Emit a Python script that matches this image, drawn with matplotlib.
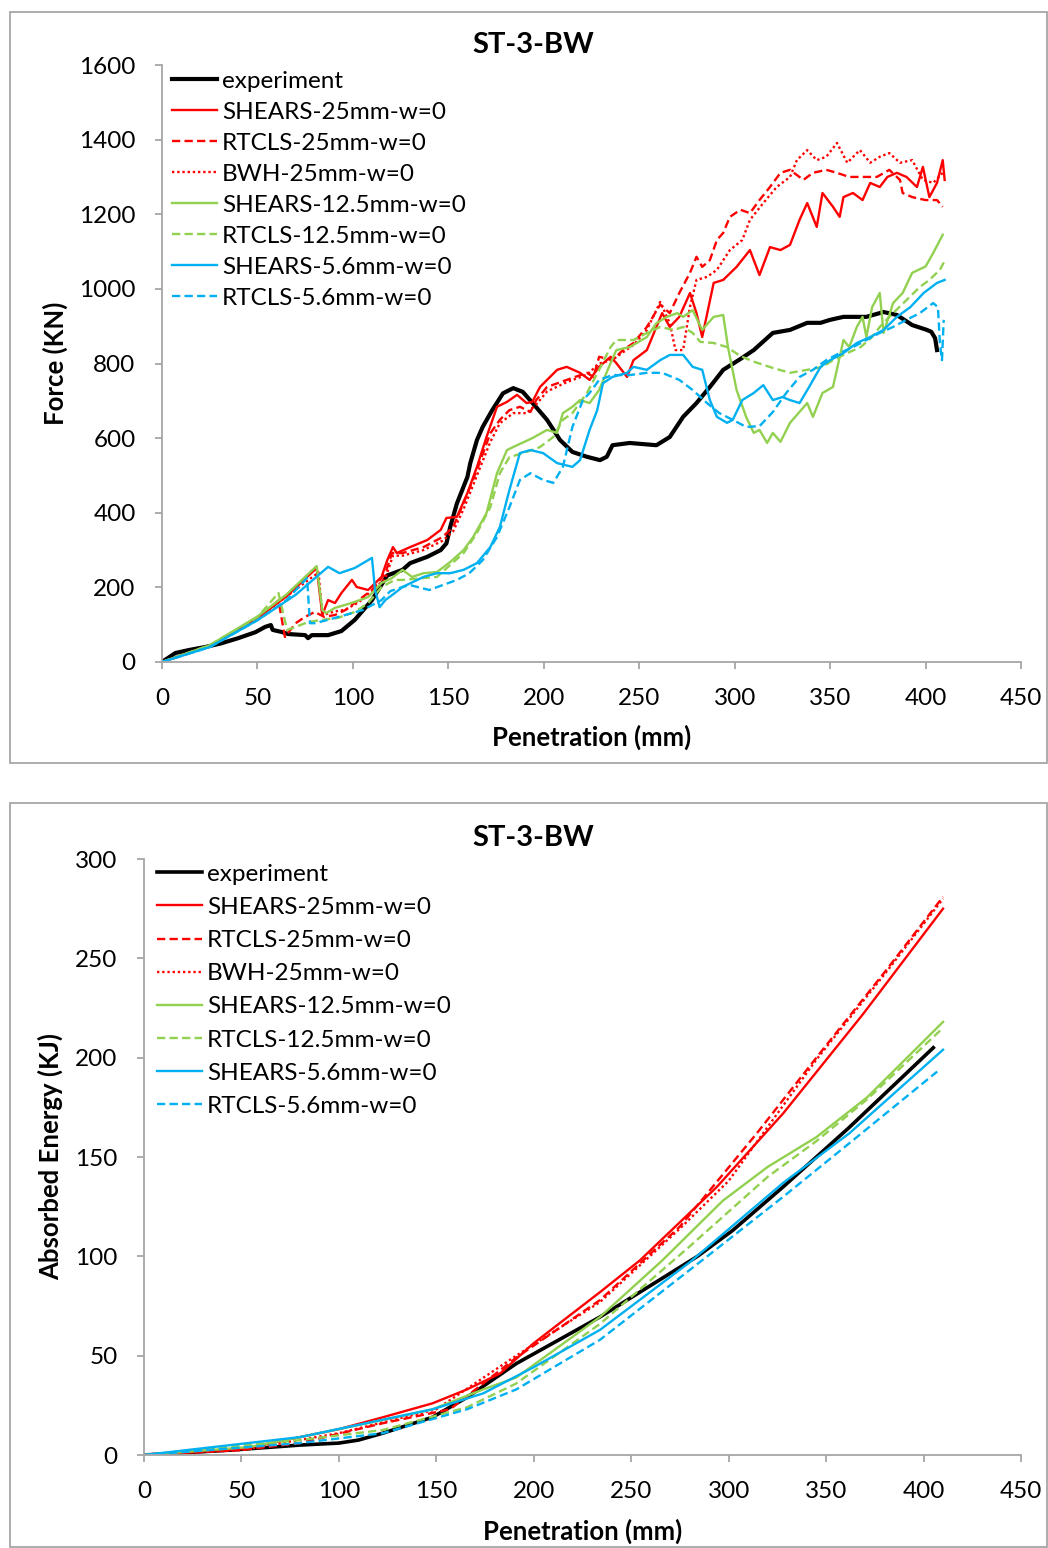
import matplotlib
matplotlib.use("Agg")
import matplotlib.pyplot as plt
from matplotlib.patches import Rectangle

plt.rcParams["font.family"] = ["Lato", "DejaVu Sans"]

TITLE = "ST-3-BW"
LABELS = ["experiment", "SHEARS-25mm-w=0", "RTCLS-25mm-w=0", "BWH-25mm-w=0",
          "SHEARS-12.5mm-w=0", "RTCLS-12.5mm-w=0", "SHEARS-5.6mm-w=0", "RTCLS-5.6mm-w=0"]

# ---- force vs penetration (top) ----
exp_x = [0, 7, 14, 22.5, 31, 40, 49, 54, 57, 58, 63, 66, 75, 76.5, 78.5, 87, 94, 101, 110, 118,
         126, 130, 139, 146, 149, 151, 154.5, 160, 161.5, 165, 168, 173, 178.6, 184, 189, 196,
         201.7, 208.5, 215, 222.6, 229.4, 233, 236, 245, 259, 266, 273, 280, 287, 294, 303, 310,
         320, 329, 338, 345, 350, 357, 369, 378, 385, 393, 400.7, 403, 405, 406]
exp_f = [0, 24, 32, 40, 50, 64, 80, 94, 99, 86, 80, 75, 72, 64, 72, 72, 83, 113, 166, 232,
         247, 265, 282, 300, 318, 362, 425, 496, 533, 595, 630, 675, 720, 734, 724, 683,
         649, 595, 563, 550, 541, 550, 581, 587, 581, 603, 657, 694, 737, 783, 812, 836,
         882, 890, 909, 909, 917, 925, 925, 938, 930, 903, 890, 885, 868, 836]

sh25_x = [0, 25, 50, 65, 81, 84, 87, 90.6, 94, 99.5, 102, 108, 115, 118, 121, 123, 130, 139, 146,
          149, 154.5, 160, 165, 170, 175.5, 180.7, 186, 191, 194, 198, 207, 212, 219, 224, 229,
          235, 238, 243.6, 247, 254, 259, 262, 266, 271, 276.6, 280, 283, 289, 294, 301, 308,
          313, 318.5, 324, 329, 334, 338, 343, 346, 351.5, 355, 357, 362, 367, 371, 376, 380,
          385, 390, 395.5, 398.6, 402, 406, 409, 410]
sh25_f = [0, 43, 118, 175, 252, 126, 166, 158, 185, 220, 201, 193, 228, 273, 308, 292, 308, 327, 354,
          386, 389, 453, 523, 603, 684, 697, 716, 694, 697, 737, 783, 791, 775, 756, 791,
          818, 801, 764, 809, 836, 898, 935, 898, 925, 989, 935, 871, 1016, 1024, 1059, 1104,
          1037, 1112, 1104, 1118, 1185, 1230, 1166, 1257, 1220, 1193, 1246, 1257, 1238, 1284, 1273, 1300,
          1311, 1300, 1273, 1327, 1246, 1284, 1345, 1292]

rt25_x = [0, 25, 50, 61, 64.4, 70, 75, 80, 85, 90.6, 96, 103, 110, 117, 120.5, 126, 137, 147,
          152.5, 158, 165, 172, 177, 182, 187.5, 193, 196, 201.7, 212, 222.6, 226, 229, 236,
          241.5, 247, 254, 261, 266, 271, 276.6, 280, 283, 287, 290.7, 294, 297.5, 303, 308,
          313, 318.5, 324, 329, 336, 341, 348, 353.6, 360, 367, 374.5, 381, 386.6, 388, 393,
          400, 406, 409]
rt25_f = [0, 43, 118, 165, 67, 104, 121, 134, 121, 126, 139, 166, 193, 238, 292, 292, 308, 335,
          362, 426, 515, 613, 649, 675, 684, 670, 702, 737, 756, 775, 764, 818, 809,
          836, 855, 898, 958, 935, 989, 1043, 1086, 1059, 1077, 1131, 1150, 1193, 1212, 1203,
          1238, 1273, 1311, 1319, 1292, 1311, 1319, 1311, 1300, 1300, 1300, 1319, 1292, 1257, 1246,
          1238, 1238, 1220]

bwh_x = [0, 25, 50, 65, 82, 84, 90, 96, 103, 110, 117, 121, 126, 137, 147, 152.5, 158, 165, 172,
         177, 184, 191, 196, 201.7, 212, 222.6, 229, 236, 241.5, 247, 254, 261, 266, 269, 273,
         276.6, 280, 285.5, 290.7, 297.5, 304, 308, 315, 322, 329, 332.6, 338, 343, 348, 353.6,
         359, 365.6, 371, 376, 381, 386.6, 393, 398.6, 404, 409]
bwh_f = [0, 43, 118, 175, 240, 125, 135, 140, 160, 190, 225, 285, 285, 300, 325, 350, 410, 500, 590,
         640, 667, 667, 690, 725, 750, 770, 800, 810, 830, 850, 890, 965, 908, 836, 836,
         952, 1024, 1032, 1051, 1104, 1131, 1185, 1230, 1273, 1300, 1345, 1372, 1345, 1354, 1391,
         1338, 1372, 1338, 1354, 1364, 1338, 1345, 1292, 1284, 1311]

sh12_x = [0, 25, 50, 65, 81, 84, 86, 90.6, 96, 101, 108, 115, 120.5, 126, 131, 137, 144, 151, 158,
          163, 170, 175.5, 180.7, 186, 194, 201.7, 207, 210, 215, 219, 224, 229, 235, 238, 245,
          254, 259, 264.5, 270, 273, 278, 283, 289, 294, 296.5, 301, 306, 310, 313, 317, 320,
          324, 329, 338, 341, 346, 351.5, 357, 360, 364, 367, 369, 372, 376, 378, 383, 388,
          393, 400, 404, 409]
sh12_f = [0, 45, 122, 180, 257, 139, 131, 145, 153, 161, 174, 212, 225, 247, 228, 238, 241, 268, 300,
          335, 399, 506, 568, 581, 600, 622, 614, 667, 684, 702, 694, 729, 801, 836, 844,
          871, 908, 925, 935, 925, 943, 890, 925, 930, 844, 729, 657, 614, 622, 587, 614,
          590, 641, 694, 657, 721, 737, 863, 844, 898, 925, 871, 951, 989, 882, 962, 989,
          1043, 1060, 1096, 1145]

rt12_x = [0, 25, 50, 61, 65.5, 70, 76.5, 84, 92, 101, 108, 115, 122, 126, 137, 144, 151, 158, 165,
          172, 177, 182, 191, 198, 205, 210, 215, 222.6, 229, 235, 238, 247, 254, 261, 268, 273,
          278, 282, 289, 296, 303, 310, 320, 329, 338, 346, 351.5, 359, 366, 372, 376, 383, 390,
          397, 402, 407.5, 410]
rt12_f = [0, 45, 120, 185, 86, 94, 107, 113, 118, 134, 158, 201, 220, 220, 225, 228, 260, 292, 346,
          415, 506, 549, 563, 576, 603, 649, 667, 721, 783, 844, 863, 863, 882, 898, 890, 898,
          882, 858, 855, 844, 820, 805, 788, 775, 783, 791, 809, 828, 844, 871, 898, 935, 970,
          1005, 1024, 1051, 1075]

sh56_x = [0, 25, 50, 70, 87, 93, 101, 110, 111.6, 114, 117, 122, 126, 137, 144, 151, 158, 165, 172,
          177, 182, 187.5, 193, 199.6, 207, 215, 219, 224, 228, 231, 236, 243.6, 247, 254, 261,
          266, 273, 278, 283, 287, 290.7, 296, 299, 304, 310, 315, 320, 325, 329, 334, 339, 345,
          350, 357, 364, 371, 378, 385, 392, 399, 406, 410]
sh56_f = [0, 40, 112, 180, 255, 238, 252, 279, 193, 147, 166, 185, 201, 228, 238, 238, 247, 265, 308,
          362, 461, 560, 568, 560, 533, 523, 541, 622, 675, 747, 764, 775, 791, 783, 809,
          823, 823, 791, 783, 702, 657, 641, 649, 702, 721, 742, 702, 710, 702, 694, 737, 791,
          809, 828, 855, 871, 890, 925, 951, 989, 1016, 1024]

rt56_x = [0, 25, 50, 65, 76, 77.5, 80, 87, 96, 105, 115, 119.6, 126, 130, 140, 147, 154.5, 161, 168,
          175.5, 182, 187.5, 193, 199.6, 205, 210, 215, 220.5, 224, 229, 236, 245, 254, 262, 271,
          278, 285.5, 292, 299, 306, 313, 320, 327, 334, 341, 348, 355, 362, 369, 376, 383, 390,
          397, 404, 406.5, 407.5, 408.6, 409.5]
rt56_f = [0, 40, 112, 165, 225, 104, 104, 113, 126, 139, 166, 190, 201, 206, 193, 206, 220, 238, 273,
          335, 415, 488, 506, 488, 480, 523, 630, 702, 721, 756, 769, 769, 775, 775, 756,
          729, 694, 667, 649, 630, 632, 670, 721, 764, 783, 809, 828, 844, 863, 882, 898, 917,
          935, 962, 951, 855, 809, 917]

# ---- absorbed energy vs penetration (bottom) ----
e_exp_x = [0, 45, 80, 100, 110, 122.6, 148, 165.7, 191, 234, 284, 302, 328, 362, 405]
e_exp_y = [0, 2.5, 5, 6, 7.5, 11, 19, 29, 46, 69.5, 100, 113, 135, 165, 205]
e_sh25_x = [0, 50, 100, 122.6, 148, 165.7, 182.7, 199.6, 234, 254.5, 294, 328, 369, 410]
e_sh25_y = [0, 3, 13, 19, 26, 33, 41, 56, 82, 98, 135, 172, 222, 275]
e_rt25_x = [0, 50, 80, 122.6, 157, 191, 234, 275, 314.5, 345, 380, 410]
e_rt25_y = [0, 2.5, 6, 16, 23, 49, 78, 115, 162, 200, 243, 281]
e_bwh_x = [0, 50, 100, 150, 191, 234, 275, 300, 345, 380, 410]
e_bwh_y = [0, 2.5, 11, 23, 50, 77, 114, 138, 199, 242, 280]
e_sh12_x = [0, 54, 80, 122.6, 148, 174, 191, 234, 266, 297, 320, 345, 371, 410]
e_sh12_y = [0, 4, 9, 17.6, 23, 33, 39, 69.5, 98, 128, 145, 160, 180, 218]
e_rt12_x = [0, 80, 122.6, 165.7, 191, 234, 280, 320, 345, 371, 410]
e_rt12_y = [0, 7.5, 12.6, 24, 36, 66, 105, 140, 158, 179, 215]
e_sh56_x = [0, 80, 114, 148, 174, 199.6, 234, 280, 328, 362, 410]
e_sh56_y = [0, 9, 16, 23, 31, 44, 63, 97, 137, 162, 204]
e_rt56_x = [0, 80, 122.6, 165.7, 191, 234, 289, 328, 362, 407]
e_rt56_y = [0, 6, 11, 23, 33, 58, 100, 130, 157, 193]

RED, GREEN, BLUE = "#FF0000", "#92D050", "#00B0F0"
DASH = (0, (3.5, 1.8))
DOT = (0, (1, 1.2))
GRAY = "#A6A6A6"
FS = 17.5

W, H = 1048, 1548
fig = plt.figure(figsize=(W / 100, H / 100), dpi=100)

# chart area borders
for y0, y1 in [(12, 763), (803, 1547)]:
    fig.patches.append(Rectangle((10 / W, 1 - y1 / H), 1037 / W, (y1 - y0) / H,
                                 transform=fig.transFigure, fill=False,
                                 edgecolor=GRAY, linewidth=1.3))


def style(ax, xmax, ymax, ystep):
    ax.set_xlim(0, xmax)
    ax.set_ylim(0, ymax)
    ax.set_xticks(range(0, xmax + 1, 50))
    ax.set_yticks(range(0, ymax + 1, ystep))
    for s in ["top", "right"]:
        ax.spines[s].set_visible(False)
    for s in ["left", "bottom"]:
        ax.spines[s].set_color(GRAY)
        ax.spines[s].set_linewidth(1.3)
    ax.tick_params(colors=GRAY, labelcolor="black", labelsize=FS,
                   length=5, width=1.3, direction="out")
    ax.tick_params(axis="x", pad=14)
    ax.tick_params(axis="y", pad=14)


ax1 = fig.add_axes([162 / W, 1 - 662 / H, (1021 - 162) / W, (662 - 65) / H])
ax1.plot(exp_x, exp_f, color="black", lw=3.0, label=LABELS[0])
ax1.plot(sh25_x, sh25_f, color=RED, lw=1.7, label=LABELS[1])
ax1.plot(rt25_x, rt25_f, color=RED, lw=1.7, ls=DASH, label=LABELS[2])
ax1.plot(bwh_x, bwh_f, color=RED, lw=1.7, ls=DOT, label=LABELS[3])
ax1.plot(sh12_x, sh12_f, color=GREEN, lw=1.7, label=LABELS[4])
ax1.plot(rt12_x, rt12_f, color=GREEN, lw=1.7, ls=DASH, label=LABELS[5])
ax1.plot(sh56_x, sh56_f, color=BLUE, lw=1.7, label=LABELS[6])
ax1.plot(rt56_x, rt56_f, color=BLUE, lw=1.7, ls=DASH, label=LABELS[7])
style(ax1, 450, 1600, 200)
ax1.set_xlabel("Penetration (mm)", fontsize=18.5, fontweight="bold", labelpad=11)
ax1.set_ylabel("Force (KN)", fontsize=18.5, fontweight="bold", labelpad=8)
ax1.legend(loc="upper left", bbox_to_anchor=(0.012, 0.99), frameon=False, fontsize=FS,
           handlelength=1.85, handletextpad=0.2, labelspacing=0.41, borderpad=0,
           borderaxespad=0)
fig.text(533 / W, 1 - 45 / H, TITLE, fontsize=21, fontweight="bold", ha="center", va="center")

ax2 = fig.add_axes([144 / W, 1 - 1455 / H, (1021 - 144) / W, (1455 - 859) / H])
ax2.plot(e_exp_x, e_exp_y, color="black", lw=2.6, label=LABELS[0])
ax2.plot(e_sh25_x, e_sh25_y, color=RED, lw=1.7, label=LABELS[1])
ax2.plot(e_rt25_x, e_rt25_y, color=RED, lw=1.7, ls=DASH, label=LABELS[2])
ax2.plot(e_bwh_x, e_bwh_y, color=RED, lw=1.7, ls=DOT, label=LABELS[3])
ax2.plot(e_sh12_x, e_sh12_y, color=GREEN, lw=1.7, label=LABELS[4])
ax2.plot(e_rt12_x, e_rt12_y, color=GREEN, lw=1.7, ls=DASH, label=LABELS[5])
ax2.plot(e_sh56_x, e_sh56_y, color=BLUE, lw=1.7, label=LABELS[6])
ax2.plot(e_rt56_x, e_rt56_y, color=BLUE, lw=1.7, ls=DASH, label=LABELS[7])
style(ax2, 450, 300, 50)
ax2.set_xlabel("Penetration (mm)", fontsize=18.5, fontweight="bold", labelpad=12)
ax2.set_ylabel("Absorbed Energy (KJ)", fontsize=18.5, fontweight="bold", labelpad=9)
ax2.legend(loc="upper left", bbox_to_anchor=(0.015, 0.992), frameon=False, fontsize=FS,
           handlelength=1.85, handletextpad=0.2, labelspacing=0.5, borderpad=0,
           borderaxespad=0)
fig.text(533 / W, 1 - 838 / H, TITLE, fontsize=21, fontweight="bold", ha="center", va="center")

fig.savefig("out.png", dpi=100)
